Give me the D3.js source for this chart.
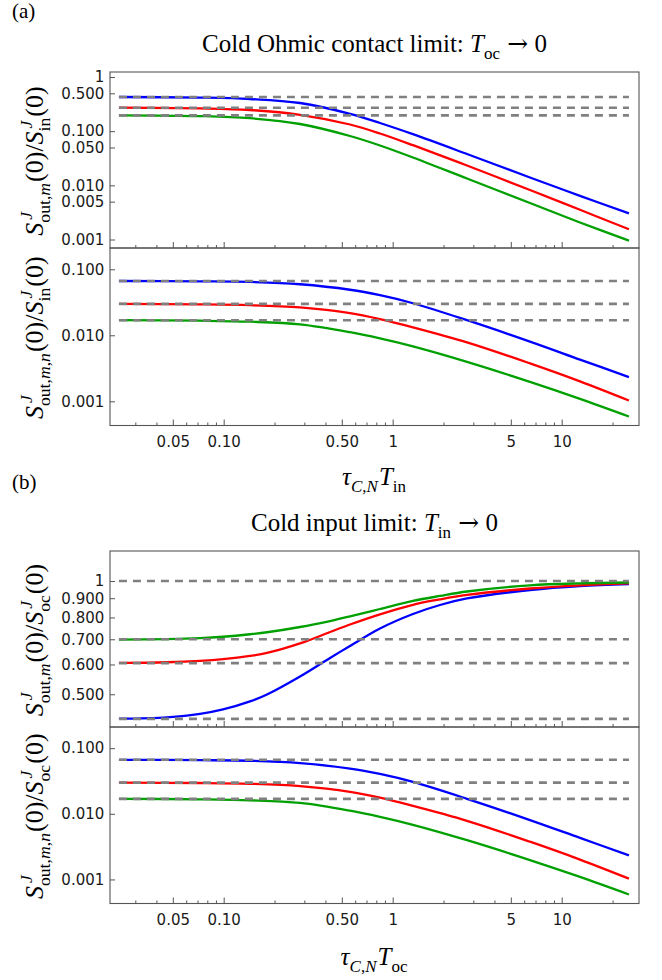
<!DOCTYPE html>
<html>
<head>
<meta charset="utf-8">
<script src="https://cdn.jsdelivr.net/npm/d3@7"></script>
<style>
  html, body { margin: 0; padding: 0; background: #fff; }
  svg text { white-space: pre; }
</style>
</head>
<body>
<svg id="chart" width="662" height="980"></svg>
<script>
// ---------------- DATA ----------------
const xTickMajor = [0.05, 0.1, 0.5, 1, 5, 10];
const xTickLabels = ["0.05", "0.10", "0.50", "1", "5", "10"];
const xTickMinor = [0.03, 0.04, 0.06, 0.07, 0.08, 0.09, 0.2, 0.3, 0.4, 0.6, 0.7, 0.8, 0.9, 2, 3, 4, 6, 7, 8, 9, 20];

// (a) top: S_out,m / S_in  (cold Ohmic contact)
const ohmicX     = [0.024, 0.0724, 0.1431, 0.283, 0.559, 0.841, 1.318, 2.752, 6.49, 12.83, 25];
const ohmicBlue  = [0.4274, 0.4166, 0.3924, 0.3311, 0.2092, 0.1415, 0.08791, 0.0379, 0.01395, 0.006409, 0.003034];
const ohmicRed   = [0.2713, 0.2633, 0.2459, 0.2005, 0.1328, 0.09057, 0.05508, 0.02324, 0.008204, 0.003536, 0.001543];
const ohmicGreen = [0.1963, 0.1898, 0.1735, 0.1356, 0.08142, 0.05438, 0.03265, 0.01337, 0.004721, 0.002061, 0.000951];
const ohmicDashed = [0.428, 0.271, 0.196];
const ohmicTicks  = [1, 0.5, 0.1, 0.05, 0.01, 0.005, 0.001];
const ohmicTickLabels = ["1", "0.500", "0.100", "0.050", "0.010", "0.005", "0.001"];

// lower panels (a) and (b): S_out,m,n ratio
const mnX     = [0.024, 0.0724, 0.1431, 0.283, 0.559, 0.841, 1.318, 2.752, 6.49, 12.83, 25];
const mnBlue  = [0.0665, 0.06561, 0.06426, 0.05931, 0.04897, 0.04044, 0.03059, 0.01692, 0.008029, 0.004289, 0.002323];
const mnRed   = [0.02985, 0.02944, 0.02862, 0.02643, 0.02165, 0.01757, 0.01320, 0.00782, 0.003757, 0.002007, 0.001028];
const mnGreen = [0.01692, 0.01663, 0.01606, 0.01462, 0.01114, 0.008977, 0.006793, 0.00396, 0.001972, 0.001091, 0.000589];
const mnDashed = [0.0665, 0.0299, 0.0169];
const mnTicks  = [0.1, 0.01, 0.001];
const mnTickLabels = ["0.100", "0.010", "0.001"];

// (b) top: S_out,m / S_oc  (cold input)
const inputX     = [0.024, 0.0462, 0.0724, 0.0991, 0.1431, 0.1804, 0.283, 0.426, 0.559, 0.841, 1.318, 1.905, 2.752, 6.49, 12.83, 25];
const inputBlue  = [0.4306, 0.4343, 0.4432, 0.4555, 0.4785, 0.4993, 0.5575, 0.6244, 0.6719, 0.7477, 0.8171, 0.8634, 0.8985, 0.9464, 0.9699, 0.9818];
const inputRed   = [0.6055, 0.6081, 0.6133, 0.6198, 0.6321, 0.6437, 0.6823, 0.7317, 0.7662, 0.8155, 0.8644, 0.8935, 0.918, 0.9552, 0.974, 0.986];
const inputGreen = [0.6984, 0.7006, 0.7049, 0.7109, 0.7218, 0.7307, 0.7546, 0.7827, 0.8049, 0.8425, 0.8849, 0.9125, 0.9378, 0.974, 0.986, 0.9909];
const inputDashed = [1, 0.70, 0.605, 0.43];
const inputTicks  = [1, 0.9, 0.8, 0.7, 0.6, 0.5];
const inputTickLabels = ["1", "0.900", "0.800", "0.700", "0.600", "0.500"];

const seriesColors = ["#0000ff", "#ff0000", "#00a000"];
const dashedXRange = [0.024, 25];

// ---------------- LAYOUT ----------------
const svg = d3.select("#chart");
svg.append("rect").attr("width", 662).attr("height", 980).attr("fill", "#fff");
const L = 110, R = 639;
const x = d3.scaleLog().domain([0.02125, 28.67]).range([L, R]);
const SERIF = "'Liberation Serif', 'Times New Roman', serif";
const SANS = "'DejaVu Sans', sans-serif";

const panels = [
  { top: 72, bottom: 248, dom: [0.000697, 1.237], xs: ohmicX, ys: [ohmicBlue, ohmicRed, ohmicGreen], dashed: ohmicDashed,
    ticks: ohmicTicks, tickLabels: ohmicTickLabels, xLabels: false, ylab: ["m", "in"] },
  { top: 248, bottom: 425.5, dom: [0.00043, 0.2101], xs: mnX, ys: [mnBlue, mnRed, mnGreen], dashed: mnDashed,
    ticks: mnTicks, tickLabels: mnTickLabels, xLabels: true, ylab: ["m,n", "in"] },
  { top: 551, bottom: 727, dom: [0.4092, 1.2015], xs: inputX, ys: [inputBlue, inputRed, inputGreen], dashed: inputDashed,
    ticks: inputTicks, tickLabels: inputTickLabels, xLabels: false, ylab: ["m", "oc"] },
  { top: 727, bottom: 903.5, dom: [0.00043, 0.2101], xs: mnX, ys: [mnBlue, mnRed, mnGreen], dashed: mnDashed,
    ticks: mnTicks, tickLabels: mnTickLabels, xLabels: true, ylab: ["m,n", "oc"] }
];

// --------- math text helper ---------
function runs(g, list, x0, y0, size) {
  const t = g.append("text").attr("x", x0).attr("y", y0)
    .attr("font-family", SERIF).attr("font-size", size).attr("fill", "#000");
  list.forEach(r => {
    const ts = t.append("tspan").attr("font-style", r.i ? "italic" : "normal").text(r.t);
    if (r.f) ts.attr("font-family", r.f);
  });
  return t.node().getComputedTextLength();
}
function mathText(parent, tokens, size, anchor) {
  const g = parent.append("g");
  const inner = g.append("g");
  const ss = size * 0.68;
  let cx = 0;
  tokens.forEach(tok => {
    if (tok.t !== undefined) {
      cx += runs(inner, [tok], cx, 0, size);
    } else {
      let ws = 0, wb = 0;
      const kern = tok.kern || 0;
      if (tok.sup) ws = runs(inner, tok.sup, cx + kern, -size * 0.42, ss) + kern;
      if (tok.sub) wb = runs(inner, tok.sub, cx, size * 0.27, ss);
      cx += Math.max(ws, wb) + 1;
    }
  });
  if (anchor === "middle") inner.attr("transform", `translate(${-cx / 2},0)`);
  return g;
}

// --------- panels ---------
panels.forEach((p, pi) => {
  const y = d3.scaleLog().domain(p.dom).range([p.bottom, p.top]);
  const clipId = "clip" + pi;
  svg.append("clipPath").attr("id", clipId).append("rect")
    .attr("x", L).attr("y", p.top).attr("width", R - L).attr("height", p.bottom - p.top);
  const plot = svg.append("g").attr("clip-path", `url(#${clipId})`);

  const line = d3.line().x(d => x(d[0])).y(d => y(d[1])).curve(d3.curveCatmullRom.alpha(0.5));
  p.ys.forEach((vals, si) => {
    const pts = p.xs.map((xv, k) => [xv, vals[k]]);
    plot.append("path").attr("d", line(pts)).attr("fill", "none")
      .attr("stroke", seriesColors[si]).attr("stroke-width", 2.3).attr("stroke-linejoin", "round");
  });
  p.dashed.forEach(v => {
    plot.append("line").attr("x1", x(dashedXRange[0])).attr("x2", x(dashedXRange[1]))
      .attr("y1", y(v)).attr("y2", y(v))
      .attr("stroke", "#808080").attr("stroke-width", 2.6).attr("stroke-dasharray", "8,6");
  });

  // x ticks
  const gx = svg.append("g").attr("transform", `translate(0,${p.bottom})`);
  gx.call(d3.axisBottom(x).tickValues(xTickMinor).tickSize(-3).tickFormat(""));
  const gx2 = svg.append("g").attr("transform", `translate(0,${p.bottom})`);
  gx2.call(d3.axisBottom(x).tickValues(xTickMajor).tickSize(-6).tickPadding(11)
    .tickFormat((d, i) => p.xLabels ? xTickLabels[i] : ""));
  [gx, gx2].forEach(g => {
    g.select(".domain").remove();
    g.selectAll(".tick line").attr("stroke", "#555").attr("stroke-width", 1);
    g.selectAll(".tick text").attr("font-family", SANS).attr("font-size", 15).attr("fill", "#1a1a1a");
  });

  // y ticks
  const gy = svg.append("g").attr("transform", `translate(${L},0)`);
  gy.call(d3.axisLeft(y).tickValues(p.ticks).tickSize(-5).tickPadding(5.7)
    .tickFormat((d, i) => p.tickLabels[i]));
  gy.select(".domain").remove();
  gy.selectAll(".tick line").attr("stroke", "#555").attr("stroke-width", 1);
  gy.selectAll(".tick text").attr("font-family", SANS).attr("font-size", 15).attr("fill", "#1a1a1a");

  // frame
  svg.append("rect").attr("x", L).attr("y", p.top).attr("width", R - L).attr("height", p.bottom - p.top)
    .attr("fill", "none").attr("stroke", "#555").attr("stroke-width", 1.1);

  // y label
  const subRuns = p.ylab[0] === "m" ? [{ t: "out," }, { t: "m", i: 1 }] : [{ t: "out," }, { t: "m", i: 1 }, { t: "," }, { t: "n", i: 1 }];
  const lab = mathText(svg, [
    { t: "S", i: 1 },
    { sup: [{ t: "J", i: 1 }], sub: subRuns, kern: 3 },
    { t: "(0)/" },
    { t: "S", i: 1 },
    { sup: [{ t: "J", i: 1 }], sub: [{ t: p.ylab[1] }], kern: 3 },
    { t: "(0)" }
  ], 26, "middle");
  lab.attr("transform", `translate(43,${(p.top + p.bottom) / 2 + 1}) rotate(-90)`);
});

// titles, panel letters, x labels
function title(tokens, cx, by, size) {
  mathText(svg, tokens, size, "middle").attr("transform", `translate(${cx},${by})`);
}
const ARROW_FONT = "'DejaVu Serif', serif";
const cxPlot = (L + R) / 2;
title([{ t: "Cold Ohmic contact limit: " }, { t: "T", i: 1 }, { sub: [{ t: "oc" }] }, { t: " " }, { t: "\u2192", f: ARROW_FONT }, { t: " 0" }], cxPlot, 52, 25);
title([{ t: "Cold input limit: " }, { t: "T", i: 1 }, { sub: [{ t: "in" }] }, { t: " " }, { t: "\u2192", f: ARROW_FONT }, { t: " 0" }], cxPlot, 531, 25);
title([{ t: "\u03C4", i: 1 }, { sub: [{ t: "C", i: 1 }, { t: "," }, { t: "N", i: 1 }] }, { t: "T", i: 1 }, { sub: [{ t: "in" }] }], cxPlot, 485, 25);
title([{ t: "\u03C4", i: 1 }, { sub: [{ t: "C", i: 1 }, { t: "," }, { t: "N", i: 1 }] }, { t: "T", i: 1 }, { sub: [{ t: "oc" }] }], cxPlot, 965, 25);

svg.append("text").attr("x", 12).attr("y", 18).attr("font-family", SERIF).attr("font-size", 21).text("(a)");
svg.append("text").attr("x", 12).attr("y", 489).attr("font-family", SERIF).attr("font-size", 21).text("(b)");
</script>
</body>
</html>
